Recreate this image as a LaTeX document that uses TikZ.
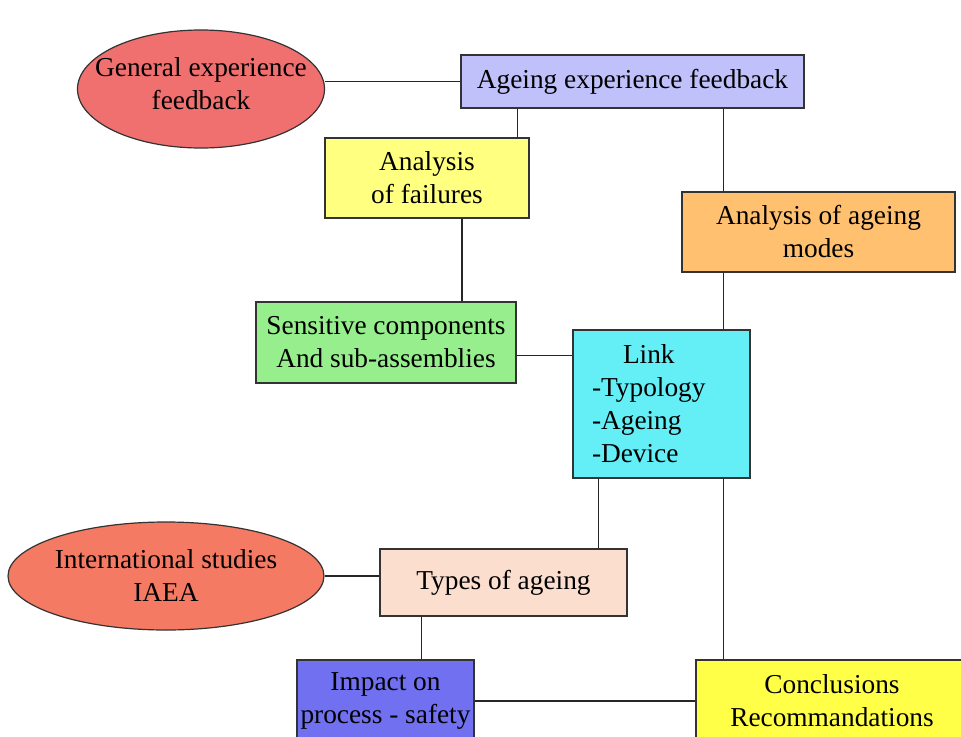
\documentclass[tikz,border=0pt]{standalone}
\usepackage{fontspec}
\setmainfont{Liberation Serif}
\usetikzlibrary{shapes.geometric}
\definecolor{cEllA}{RGB}{240,112,112}
\definecolor{cEllB}{RGB}{245,122,100}
\definecolor{cAef}{RGB}{192,192,250}
\definecolor{cAf}{RGB}{255,255,128}
\definecolor{cAam}{RGB}{255,192,112}
\definecolor{cSc}{RGB}{150,238,140}
\definecolor{cLink}{RGB}{100,238,245}
\definecolor{cToa}{RGB}{252,222,206}
\definecolor{cImp}{RGB}{112,112,240}
\definecolor{cConc}{RGB}{255,255,72}
\tikzset{
  boxnode/.style={draw=black!80, line width=1pt, rectangle, align=center, inner sep=0pt,
    font=\fontsize{20.5}{24.75}\selectfont},
  ellnode/.style={draw=black!80, line width=0.9pt, ellipse, align=center, inner xsep=-20pt, inner ysep=0pt,
    font=\fontsize{20.5}{24.75}\selectfont},
  wire/.style={draw=black!85, line width=1.1pt}
}
\begin{document}
\begin{tikzpicture}[x=0.75pt, y=-0.75pt]
\useasboundingbox (0,0) rectangle (961,736);
\clip (0,0) rectangle (961,736);
\fill[white] (0,0) rectangle (961,736);

% nodes
\node[ellnode, fill=cEllA, minimum width=247*0.75pt, minimum height=118*0.75pt] (e1) at (201,89) {General experience\\feedback\\[-16pt]\mbox{}};
\node[boxnode, fill=cAef, minimum width=343*0.75pt, minimum height=53*0.75pt] (aef) at (632.5,81.5) {Ageing experience feedback};
\node[boxnode, fill=cAf, minimum width=204*0.75pt, minimum height=80*0.75pt] (af) at (427,178) {Analysis\\of failures};
\node[boxnode, fill=cAam, minimum width=273*0.75pt, minimum height=80*0.75pt] (aam) at (818.5,232) {Analysis of ageing\\modes};
\node[boxnode, fill=cSc, minimum width=260*0.75pt, minimum height=81*0.75pt] (sc) at (386,342.5) {Sensitive components\\And sub-assemblies};
\node[boxnode, fill=cLink, minimum width=177*0.75pt, minimum height=148*0.75pt, align=left,
      inner xsep=19*0.75pt, text width=139*0.75pt] (link) at (661.5,404) {\hspace*{31\dimexpr 0.75pt\relax}Link\\-Typology\\-Ageing\\-Device};
\node[ellnode, fill=cEllB, minimum width=316*0.75pt, minimum height=108*0.75pt] (e2) at (166,576) {International studies\\IAEA};
\node[boxnode, fill=cToa, minimum width=247*0.75pt, minimum height=67*0.75pt] (toa) at (503.5,582.5) {Types of ageing};
\node[boxnode, fill=cImp, minimum width=177*0.75pt, minimum height=82*0.75pt] (imp) at (385.5,701) {Impact on\\process - safety};
\node[boxnode, fill=cConc, minimum width=272*0.75pt, minimum height=82*0.75pt] (conc) at (832,701) {Conclusions\\Recommandations};

% connectors
\draw[wire] (e1.east |- aef.west) -- (aef.west);
\draw[wire] ([xshift=-12*0.75pt]af.north east) -- ([xshift=-12*0.75pt]af.north east |- aef.south);
\draw[wire] ([xshift=-27*0.75pt]link.north east |- aef.south) -- ([xshift=-27*0.75pt]link.north east |- aam.north);
\draw[wire] ([xshift=35*0.75pt]af.south) -- ([xshift=35*0.75pt]af.south |- sc.north);
\draw[wire] ([xshift=-27*0.75pt]link.north east |- aam.south) -- ([xshift=-27*0.75pt]link.north east);
\draw[wire] ([yshift=-13*0.75pt]sc.east) -- ([yshift=-13*0.75pt]sc.east -| link.west);
\draw[wire] ([xshift=26*0.75pt]link.south west) -- ([xshift=26*0.75pt]link.south west |- toa.north);
\draw[wire] ([xshift=-27*0.75pt]link.south east) -- ([xshift=-27*0.75pt]link.south east |- conc.north);
\draw[wire] (e2.east) -- (e2.east -| toa.west);
\draw[wire] ([xshift=42*0.75pt]toa.south west) -- ([xshift=42*0.75pt]toa.south west |- imp.north);
\draw[wire] (imp.east) -- (imp.east -| conc.west);
\end{tikzpicture}
\end{document}
